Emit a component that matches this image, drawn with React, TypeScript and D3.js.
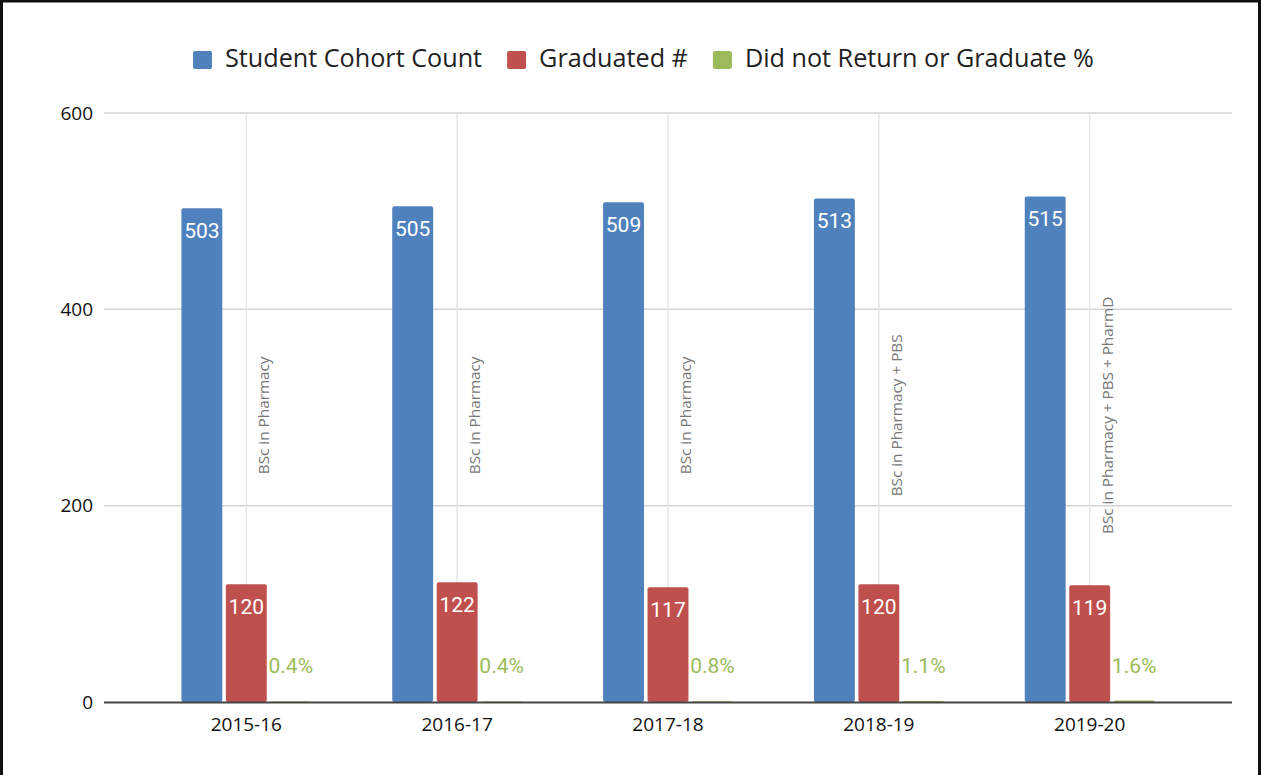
import React from 'react';
import * as d3 from 'd3';

// ==== data

const years = ['2015-16', '2016-17', '2017-18', '2018-19', '2019-20'];
const cohortCount = [503, 505, 509, 513, 515];
const graduated = [120, 122, 117, 120, 119];
const didNotReturnPct = [0.4, 0.4, 0.8, 1.1, 1.6];
const programs = [
    'BSc in Pharmacy',
    'BSc in Pharmacy',
    'BSc in Pharmacy',
    'BSc in Pharmacy + PBS',
    'BSc in Pharmacy + PBS + PharmD'
];
const seriesNames = ['Student Cohort Count', 'Graduated #', 'Did not Return or Graduate %'];
const seriesColors = ['#4f81bd', '#c0504d', '#9bbb59'];
const yTicks = [0, 200, 400, 600];

// ====

const WIDTH = 1262;
const HEIGHT = 775;
const FONT = '"Open Sans", "DejaVu Sans", sans-serif';

class App extends React.Component {
    node: SVGSVGElement | null = null;

    componentDidMount() {
        this.createChart();
    }

    createChart() {
        const svg = d3.select(this.node);
        svg.selectAll('*').remove();

        const left = 104, right = 1232, top = 113, bottom = 702;

        const x0 = d3.scaleBand<string>().domain(years).range([left, right]).paddingInner(0).paddingOuter(0.175);
        const x1 = d3.scaleBand<string>().domain(seriesNames).range([0, x0.bandwidth()]).paddingInner(0.08).paddingOuter(0.911);
        const y = d3.scaleLinear().domain([0, 600]).range([bottom, top]);

        // frame
        svg.append('rect')
            .attr('x', 1.5).attr('y', 1)
            .attr('width', 1258).attr('height', 820)
            .attr('fill', 'none').attr('stroke', '#111').attr('stroke-width', 3);

        // legend
        const legend = svg.append('g');
        let lx = 193;
        seriesNames.forEach((name, i) => {
            legend.append('rect')
                .attr('x', lx).attr('y', 51)
                .attr('width', 19).attr('height', 18)
                .attr('rx', 2)
                .attr('fill', seriesColors[i]);
            const t = legend.append('text')
                .attr('x', lx + 32).attr('y', 67)
                .attr('font-family', FONT).attr('font-size', 25.2)
                .attr('fill', '#222')
                .text(name);
            const w = (t.node() as SVGTextElement).getComputedTextLength();
            lx += 32 + w + 25;
        });

        // grid
        svg.append('g')
            .selectAll('line')
            .data(yTicks.filter((d) => d !== 0))
            .enter()
            .append('line')
            .attr('x1', left).attr('x2', right)
            .attr('y1', (d) => y(d)).attr('y2', (d) => y(d))
            .attr('stroke', '#d4d4d4').attr('stroke-width', 1.5);

        svg.append('g')
            .selectAll('line')
            .data(years)
            .enter()
            .append('line')
            .attr('x1', (d) => x0(d)! + x0.bandwidth() / 2)
            .attr('x2', (d) => x0(d)! + x0.bandwidth() / 2)
            .attr('y1', top).attr('y2', bottom)
            .attr('stroke', '#e6e6e6').attr('stroke-width', 1.5);

        // y labels
        svg.append('g')
            .selectAll('text')
            .data(yTicks)
            .enter()
            .append('text')
            .attr('x', 93).attr('y', (d) => y(d))
            .attr('dy', '0.35em')
            .attr('text-anchor', 'end')
            .attr('font-family', FONT).attr('font-size', 19)
            .attr('fill', '#111')
            .text((d) => d);

        // bars
        const seriesValues = [cohortCount, graduated, didNotReturnPct];
        const rows = years.map((yr, i) => ({
            year: yr,
            values: seriesNames.map((s, j) => ({ series: s, color: seriesColors[j], value: seriesValues[j][i], pct: j === 2 }))
        }));

        const groups = svg.append('g')
            .selectAll('g')
            .data(rows)
            .enter()
            .append('g')
            .attr('transform', (d) => 'translate(' + x0(d.year) + ',0)');

        groups.selectAll('rect')
            .data((d) => d.values)
            .enter()
            .append('rect')
            .attr('x', (d) => x1(d.series)!)
            .attr('y', (d) => y(d.value))
            .attr('width', x1.bandwidth())
            .attr('height', (d) => bottom - y(d.value))
            .attr('rx', 2)
            .attr('fill', (d) => d.color);

        groups.selectAll('text.val')
            .data((d) => d.values)
            .enter()
            .append('text')
            .attr('class', 'val')
            .attr('x', (d) => x1(d.series)! + x1.bandwidth() / 2)
            .attr('y', (d) => Math.min(y(d.value) + 30, bottom - 29))
            .attr('text-anchor', 'middle')
            .attr('font-family', 'Roboto, sans-serif').attr('font-size', 21)
            .attr('fill', (d) => (d.pct ? d.color : '#fff'))
            .text((d) => (d.pct ? d.value.toFixed(1) + '%' : d.value));

        // axis line
        svg.append('line')
            .attr('x1', left).attr('x2', right)
            .attr('y1', y(0) + 0.5).attr('y2', y(0) + 0.5)
            .attr('stroke', '#444').attr('stroke-width', 1.8);

        // x labels
        svg.append('g')
            .selectAll('text')
            .data(years)
            .enter()
            .append('text')
            .attr('x', (d) => x0(d)! + x0.bandwidth() / 2)
            .attr('y', 731)
            .attr('text-anchor', 'middle')
            .attr('font-family', FONT).attr('font-size', 19)
            .attr('fill', '#111')
            .text((d) => d);

        // program annotations
        svg.append('g')
            .selectAll('text')
            .data(programs)
            .enter()
            .append('text')
            .attr('transform', (d, i) => 'translate(' + (x0(years[i])! + x0.bandwidth() / 2 + 17.5) + ',' + y(292) + ') rotate(-90)')
            .attr('dy', '0.35em')
            .attr('text-anchor', 'middle')
            .attr('font-family', FONT).attr('font-size', 15.3)
            .attr('fill', '#777')
            .text((d) => d);
    }

    render() {
        return (
            <svg
                ref={(node) => { this.node = node; }}
                width={WIDTH}
                height={HEIGHT}
                style={{ position: 'absolute', left: 0, top: 0, background: '#fff' }}>
            </svg>
        );
    }
}

export default App;
